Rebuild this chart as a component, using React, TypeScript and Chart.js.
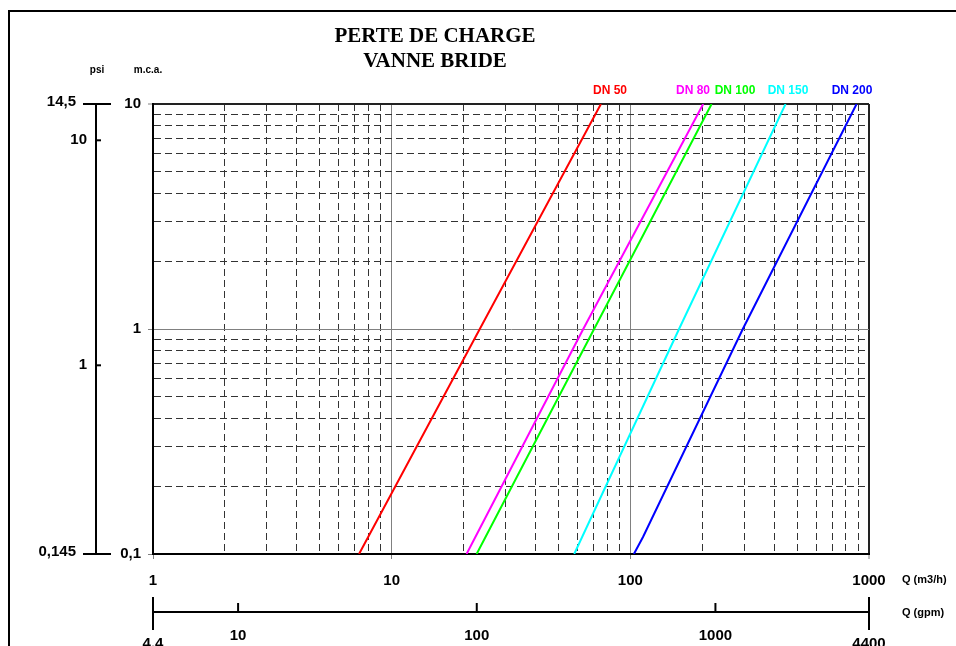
import React, { useEffect, useRef } from 'react';
import { Chart, registerables } from 'chart.js';

Chart.register(...registerables);

// ---- Text ----
const TITLE_LINES = ['PERTE DE CHARGE', 'VANNE BRIDE'];
const SERIES_NAMES = ['DN 50', 'DN 80', 'DN 100', 'DN 150', 'DN 200'];
const SERIES_COLORS = ['#ff0000', '#ff00ff', '#00ff00', '#00ffff', '#0000ff'];

// ---- Data: flow Q (m3/h) vs head loss H (m.c.a.) ----
const Q_DN50 = [7.3, 23.4, 75.3];
const H_DN50 = [0.1, 1, 10];
const Q_DN80 = [20.6, 63.5, 202];
const H_DN80 = [0.1, 1, 10];
const Q_DN100 = [22.7, 70.5, 219];
const H_DN100 = [0.1, 1, 10];
const Q_DN150 = [58.2, 160, 447];
const H_DN150 = [0.1, 1, 10];
const Q_DN200 = [103.5, 113, 296, 887];
const H_DN200 = [0.1, 0.119, 1, 10];

// ---- Axis ticks ----
const X_MAJOR = [1, 10, 100, 1000];
const X_TICK_LABELS = ['1', '10', '100', '1000'];
const Y_MAJOR = [0.1, 1, 10];
const Y_TICK_LABELS = ['0,1', '1', '10'];
const PSI_VALUES = [14.5, 10, 1, 0.145];
const PSI_LABELS = ['14,5', '10', '1', '0,145'];
const GPM_VALUES = [4.4, 10, 100, 1000, 4400];
const GPM_LABELS = ['4,4', '10', '100', '1000', '4400'];
const PSI_PER_MCA = 1.45;
const GPM_PER_M3H = 4.4;

// ---- Layout constants ----
const W = 956;
const H = 646;
const LABEL_X = [610, 693, 735, 788, 852];

function logGrid(majors: number[]) {
  const out: number[] = [];
  for (let i = 0; i < majors.length; i++) {
    out.push(majors[i]);
    if (i < majors.length - 1) {
      for (let k = 2; k <= 9; k++) out.push(+(majors[i] * k).toPrecision(6));
    }
  }
  return out;
}
const near = (a: number, b: number) => Math.abs(a - b) / b < 1e-6;
const isIn = (v: number, arr: number[]) => arr.some((m) => near(v, m));

const SANS = '"Liberation Sans", Arial, sans-serif';
const SERIF = '"Liberation Serif", "Times New Roman", serif';

function gridOpts(majors: number[], farEdge: number, nearEdge: number) {
  return {
    color: (c: any) => {
      const v = c.tick?.value;
      if (v == null) return '#000';
      if (near(v, farEdge)) return '#222';
      if (near(v, nearEdge)) return '#000';
      if (isIn(v, majors)) return '#808080';
      return '#333';
    },
    lineWidth: (c: any) => {
      const v = c.tick?.value;
      if (v == null) return 1;
      return near(v, farEdge) ? 2 : 1;
    },
    tickLength: 5,
    tickWidth: 1,
    tickColor: (c: any) => {
      const v = c.tick?.value;
      return v != null && isIn(v, majors) ? '#808080' : 'rgba(0,0,0,0)';
    },
  };
}

function borderOpts(majors: number[]) {
  return {
    display: true,
    color: '#000',
    width: 2,
    dash: (c: any) => {
      const v = c.tick?.value;
      if (v == null) return [];
      return isIn(v, majors) ? [] : [7, 4];
    },
  };
}

const overlayPlugin = {
  id: 'overlay',
  beforeDraw(chart: any) {
    const ctx = chart.ctx;
    ctx.save();
    ctx.strokeStyle = '#000';
    ctx.lineWidth = 2;
    ctx.beginPath();
    ctx.moveTo(9, H);
    ctx.lineTo(9, 11);
    ctx.lineTo(W, 11);
    ctx.stroke();
    ctx.restore();
  },
  afterDraw(chart: any) {
    const ctx = chart.ctx;
    const xs = chart.scales.x;
    const ys = chart.scales.y;
    ctx.save();
    ctx.fillStyle = '#000';
    ctx.strokeStyle = '#000';
    ctx.textBaseline = 'middle';

    // Title
    ctx.textAlign = 'center';
    ctx.font = `bold 21px ${SERIF}`;
    TITLE_LINES.forEach((t, i) => ctx.fillText(t, 435, 37 + i * 25));

    // Unit labels
    ctx.font = `bold 10px ${SANS}`;
    ctx.fillText('psi', 97, 70);
    ctx.fillText('m.c.a.', 148, 70);

    // Series labels
    ctx.font = `bold 12px ${SANS}`;
    SERIES_NAMES.forEach((n, i) => {
      ctx.fillStyle = SERIES_COLORS[i];
      ctx.fillText(n, LABEL_X[i], 91);
    });
    ctx.fillStyle = '#000';

    // psi axis
    const ax = 96;
    const pTop = ys.getPixelForValue(PSI_VALUES[0] / PSI_PER_MCA);
    const pBot = ys.getPixelForValue(PSI_VALUES[PSI_VALUES.length - 1] / PSI_PER_MCA);
    ctx.lineWidth = 2;
    ctx.beginPath();
    ctx.moveTo(ax, pTop);
    ctx.lineTo(ax, pBot);
    ctx.moveTo(83, pTop);
    ctx.lineTo(111, pTop);
    ctx.moveTo(83, pBot);
    ctx.lineTo(111, pBot);
    ctx.stroke();
    ctx.font = `bold 15px ${SANS}`;
    ctx.textAlign = 'right';
    PSI_VALUES.forEach((v, i) => {
      const y = ys.getPixelForValue(v / PSI_PER_MCA);
      const end = i === 0 || i === PSI_VALUES.length - 1;
      if (!end) {
        ctx.beginPath();
        ctx.moveTo(ax, y);
        ctx.lineTo(ax + 5, y);
        ctx.stroke();
      }
      ctx.fillText(PSI_LABELS[i], end ? 76 : 87, end ? y - 2 : y);
    });

    // gpm axis
    const gy = 612;
    const gL = xs.getPixelForValue(GPM_VALUES[0] / GPM_PER_M3H);
    const gR = xs.getPixelForValue(GPM_VALUES[GPM_VALUES.length - 1] / GPM_PER_M3H);
    ctx.beginPath();
    ctx.moveTo(gL, gy);
    ctx.lineTo(gR, gy);
    ctx.moveTo(gL, 597);
    ctx.lineTo(gL, 630);
    ctx.moveTo(gR, 597);
    ctx.lineTo(gR, 630);
    ctx.stroke();
    ctx.textAlign = 'center';
    GPM_VALUES.forEach((v, i) => {
      const x = xs.getPixelForValue(v / GPM_PER_M3H);
      const end = i === 0 || i === GPM_VALUES.length - 1;
      if (!end) {
        ctx.beginPath();
        ctx.moveTo(x, gy);
        ctx.lineTo(x, 603);
        ctx.stroke();
      }
      ctx.fillText(GPM_LABELS[i], x, end ? 644 : 636);
    });

    // Axis names
    ctx.textAlign = 'left';
    ctx.font = `bold 11px ${SANS}`;
    ctx.fillText('Q (m3/h)', 902, 580);
    ctx.fillText('Q (gpm)', 902, 613);
    ctx.restore();
  },
};

export default function App() {
  const ref = useRef<HTMLCanvasElement | null>(null);

  useEffect(() => {
    if (!ref.current) return;
    const qs = [Q_DN50, Q_DN80, Q_DN100, Q_DN150, Q_DN200];
    const hs = [H_DN50, H_DN80, H_DN100, H_DN150, H_DN200];
    const datasets = SERIES_NAMES.map((name, i) => ({
      label: name,
      data: qs[i].map((q, j) => ({ x: q, y: hs[i][j] })),
      borderColor: SERIES_COLORS[i],
      backgroundColor: SERIES_COLORS[i],
      borderWidth: 2,
      showLine: true,
      pointRadius: 0,
      tension: 0,
    }));
    const xGrid = logGrid(X_MAJOR);
    const yGrid = logGrid(Y_MAJOR);

    const chart = new Chart(ref.current, {
      type: 'scatter',
      data: { datasets },
      plugins: [overlayPlugin],
      options: {
        animation: false,
        responsive: false,
        maintainAspectRatio: false,
        layout: { padding: { left: 0, top: 104, right: 87, bottom: 0 } },
        plugins: { legend: { display: false }, tooltip: { enabled: false }, title: { display: false } },
        scales: {
          x: {
            type: 'logarithmic',
            position: 'bottom',
            min: X_MAJOR[0],
            max: X_MAJOR[X_MAJOR.length - 1],
            afterBuildTicks: (s: any) => {
              s.ticks = xGrid.map((v) => ({ value: v, major: isIn(v, X_MAJOR) }));
            },
            afterFit: (s: any) => {
              s.height = H - 554;
            },
            ticks: {
              autoSkip: false,
              maxRotation: 0,
              minRotation: 0,
              padding: 13,
              color: '#000',
              font: { family: SANS, size: 15, weight: 'bold' },
              callback: (v: any) => {
                const i = X_MAJOR.findIndex((m) => near(Number(v), m));
                return i >= 0 ? X_TICK_LABELS[i] : '';
              },
            },
            grid: gridOpts(X_MAJOR, X_MAJOR[X_MAJOR.length - 1], X_MAJOR[0]),
            border: borderOpts(X_MAJOR),
          },
          y: {
            type: 'logarithmic',
            position: 'left',
            min: Y_MAJOR[0],
            max: Y_MAJOR[Y_MAJOR.length - 1],
            afterBuildTicks: (s: any) => {
              s.ticks = yGrid.map((v) => ({ value: v, major: isIn(v, Y_MAJOR) }));
            },
            afterFit: (s: any) => {
              s.width = 153;
            },
            ticks: {
              autoSkip: false,
              padding: 7,
              color: '#000',
              font: { family: SANS, size: 15, weight: 'bold' },
              callback: (v: any) => {
                const i = Y_MAJOR.findIndex((m) => near(Number(v), m));
                return i >= 0 ? Y_TICK_LABELS[i] : '';
              },
            },
            grid: gridOpts(Y_MAJOR, Y_MAJOR[Y_MAJOR.length - 1], Y_MAJOR[0]),
            border: borderOpts(Y_MAJOR),
          },
        },
      } as any,
    });
    return () => chart.destroy();
  }, []);

  return (
    <div style={{ position: 'fixed', left: 0, top: 0, width: W, height: H, background: '#fff' }}>
      <canvas ref={ref} width={W} height={H} style={{ width: W, height: H, display: 'block' }} />
    </div>
  );
}
